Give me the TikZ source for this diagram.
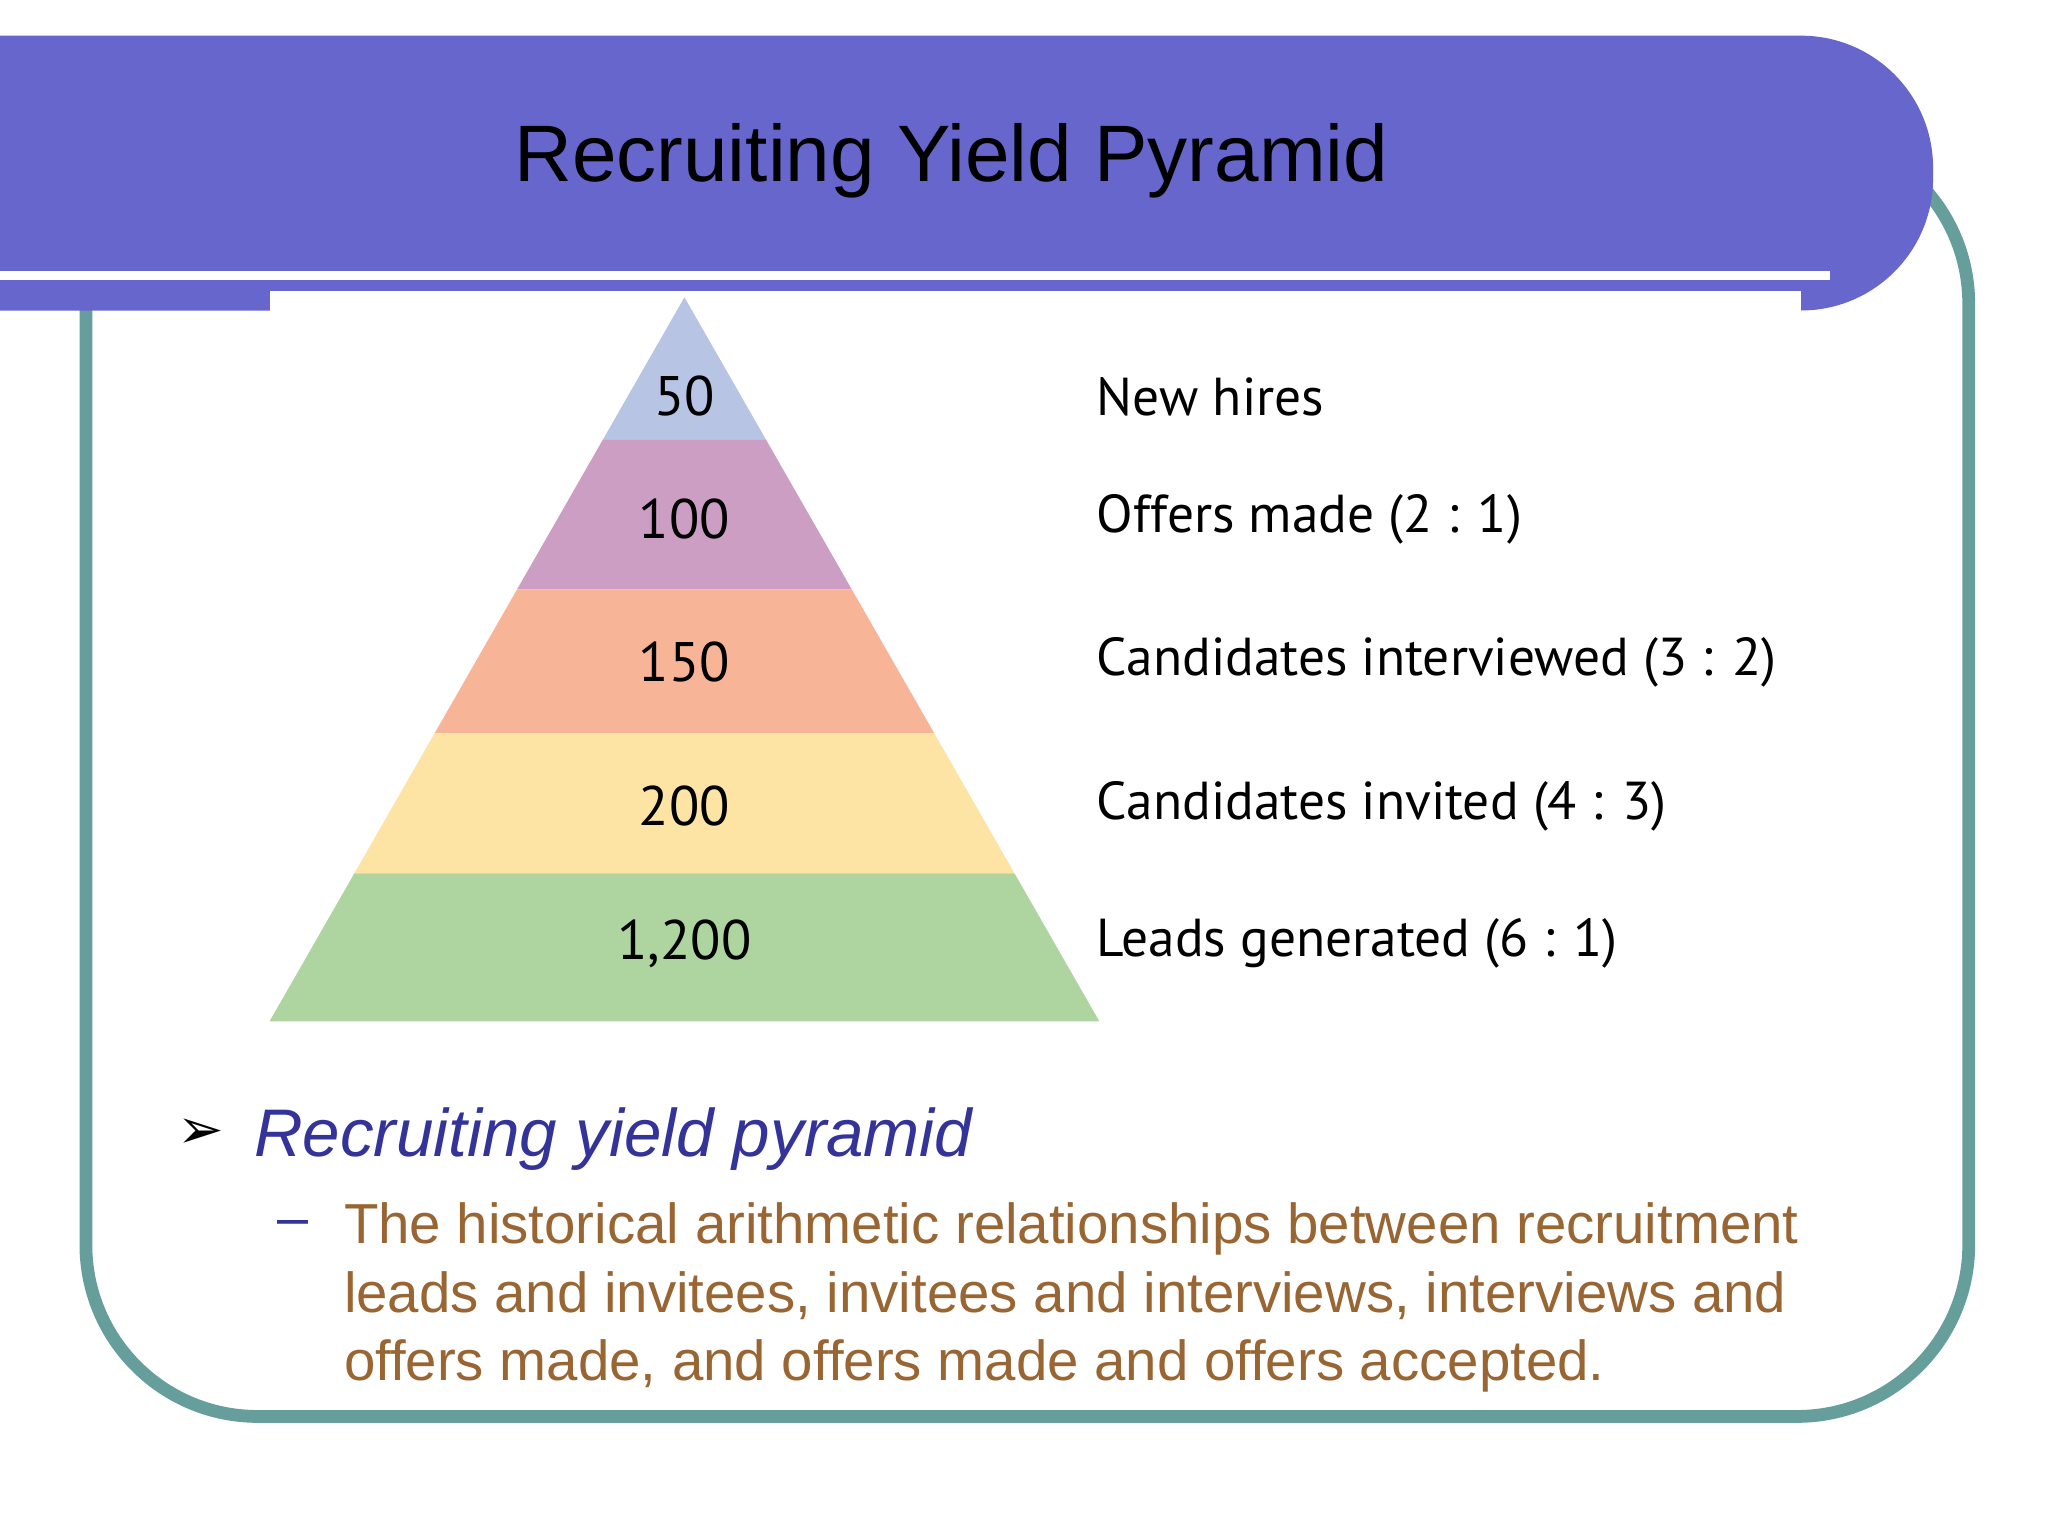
\documentclass[tikz,border=0pt]{standalone}
\usepackage{fontspec}
\setmainfont{Liberation Sans}
\newfontfamily\narrowf{PT Sans}
\newfontfamily\dvs{DejaVu Sans}
\definecolor{ban}{HTML}{6666CC}
\definecolor{frm}{HTML}{669E9C}
\definecolor{c1}{HTML}{B8C4E4}
\definecolor{c2}{HTML}{CC9EC4}
\definecolor{c3}{HTML}{F7B497}
\definecolor{c4}{HTML}{FDE4A5}
\definecolor{c5}{HTML}{AED4A0}
\definecolor{brn}{HTML}{996633}
\definecolor{itl}{HTML}{333399}
\begin{document}
\begin{tikzpicture}[x=0.02cm,y=-0.02cm,
  num/.style={font=\narrowf\fontsize{24}{30}\selectfont,anchor=center},
  lab/.style={font=\narrowf\fontsize{23}{30}\selectfont,anchor=west},
  body/.style={font=\fontsize{24.3}{29.5}\selectfont,text=brn,anchor=north west,align=left,inner sep=0}]
\useasboundingbox (0,0) rectangle (1550,1162);
\fill[white] (0,0) rectangle (1550,1162);
% frame
\draw[frm,line width=5.5,rounded corners=2.6cm] (65,100) rectangle (1490,1072);
% banner
\fill[ban] (0,27) [rounded corners=2.0cm] -- (1463,27) -- (1463,235) [sharp corners] -- (0,235) -- cycle;
\fill[white] (204,220) rectangle (1363,240);
\fill[white] (0,205) rectangle (1385,212);
\node (title) at (720,122) {\fontsize{34.5}{42}\selectfont Recruiting Yield Pyramid};
% pyramid
\foreach \ya/\yb/\c in {225/333/c1,333/446/c2,446/555/c3,555/661/c4,661/773/c5}{
  \pgfmathsetmacro\wa{(\ya-225)/548*314}
  \pgfmathsetmacro\wb{(\yb-225)/548*314}
  \fill[\c] (518-\wa,\ya) -- (518+\wa,\ya) -- (518+\wb,\yb) -- (518-\wb,\yb) -- cycle;
}
\node[num] (n1) at (518,300) {50};
\node[num] (n2) at (518,393) {100};
\node[num] (n3) at (518,501) {150};
\node[num] (n4) at (518,610) {200};
\node[num] (n5) at (518,714) {1,200};
\node[lab] (l1) at (824,300) {New hires};
\node[lab] (l2) at (824,393) {Offers made (2 : 1)};
\node[lab] (l3) at (824,501) {Candidates interviewed (3 : 2)};
\node[lab] (l4) at (824,610) {Candidates invited (4 : 3)};
\node[lab] (l5) at (824,714) {Leads generated (6 : 1)};
% text
\node (bul) at (152,858) {\dvs\fontsize{24}{28}\selectfont ➢};
\node[anchor=west,inner sep=0,text=itl] (h) at (192,862) {\fontsize{29}{34}\selectfont\itshape Recruiting yield pyramid};
\node[anchor=west,inner sep=0,text=itl] (dash) at (210,930) {\fontsize{24}{28}\selectfont –};
\node[body] (b) at (260,910) {The historical arithmetic relationships between recruitment\\leads and invitees, invitees and interviews, interviews and\\offers made, and offers made and offers accepted.};
\end{tikzpicture}
\end{document}
